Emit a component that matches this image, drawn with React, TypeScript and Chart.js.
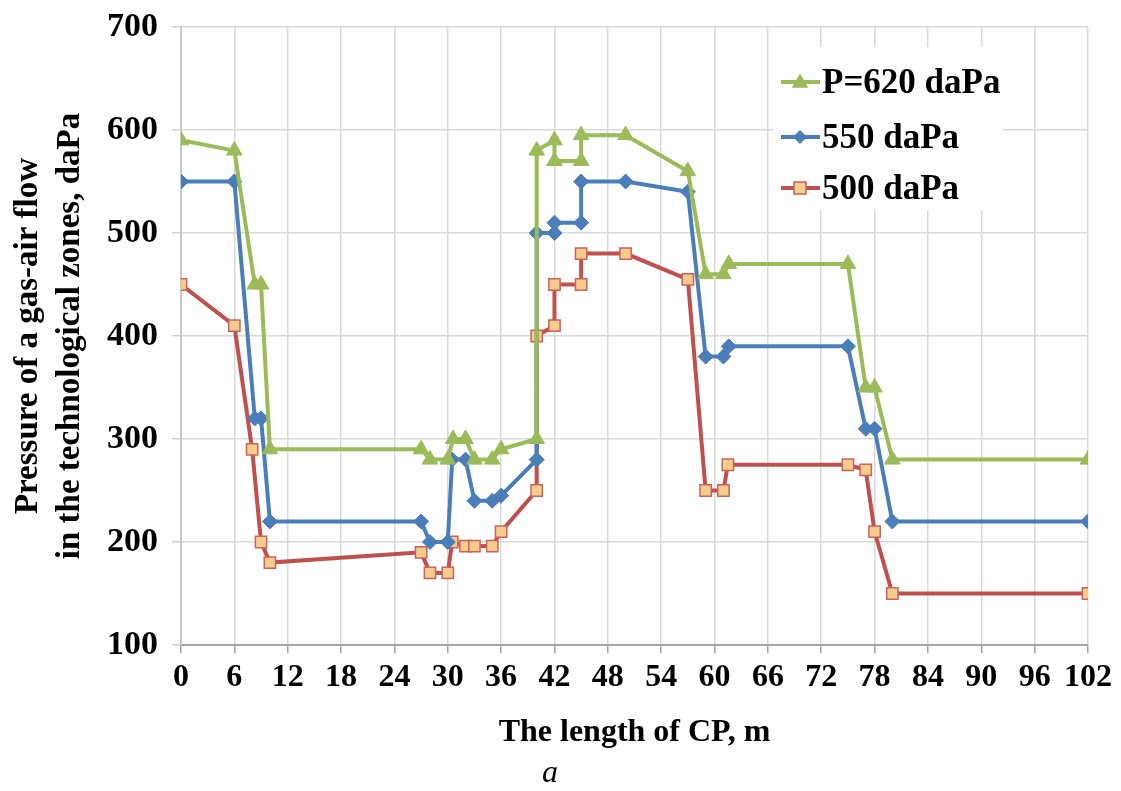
import React, { useEffect, useRef } from "react";
import { Chart, registerables } from "chart.js";

Chart.register(...registerables);

// Data
const greenX = [0, 6, 8.3, 9, 10, 27, 28, 30, 30.6, 32, 33, 35, 36, 40, 40, 42, 42, 45, 45, 50, 57, 59, 61, 61.6, 75, 77, 78, 80, 102];
const greenY = [590, 580, 450, 450, 290, 290, 280, 280, 300, 300, 280, 280, 290, 300, 580, 590, 570, 570, 595, 595, 560, 460, 460, 470, 470, 350, 350, 280, 280];

const blueX = [0, 6, 8.3, 9, 10, 27, 28, 30, 30.5, 32, 33, 35, 36, 40, 40, 42, 42, 45, 45, 50, 57, 59, 61, 61.6, 75, 77, 78, 80, 102];
const blueY = [550, 550, 320, 320, 220, 220, 200, 200, 280, 280, 240, 240, 245, 280, 500, 500, 510, 510, 550, 550, 540, 380, 380, 390, 390, 310, 310, 220, 220];

const redX = [0, 6, 8, 9, 10, 27, 28, 30, 30.5, 32, 33, 35, 36, 40, 40, 42, 42, 45, 45, 50, 57, 59, 61, 61.5, 75, 77, 78, 80, 102];
const redY = [450, 410, 290, 200, 180, 190, 170, 170, 200, 196, 196, 196, 210, 250, 400, 410, 450, 450, 480, 480, 455, 250, 250, 275, 275, 270, 210, 150, 150];

const seriesLabels = ["P=620 daPa", "550 daPa", "500 daPa"];
const xMin = 0;
const xMax = 102;
const xStep = 6;
const yMin = 100;
const yMax = 700;
const yStep = 100;
const yTitleLines = ["Pressure of a gas-air flow", "in the technological zones, daPa"];
const xTitle = "The length of CP, m";
const caption = "a";

const toPoints = (xs: number[], ys: number[]) => xs.map((x, i) => ({ x, y: ys[i] }));

const SERIF = '"Liberation Serif", "Times New Roman", serif';

const decorPlugin = {
  id: "decor",
  afterDraw(chart: any) {
    const ctx = chart.ctx as CanvasRenderingContext2D;
    const area = chart.chartArea;
    ctx.save();
    ctx.fillStyle = "#000";
    // Y title
    ctx.font = `bold 33px ${SERIF}`;
    ctx.textAlign = "center";
    ctx.textBaseline = "middle";
    const cy = 336;
    const xs = [28, 70];
    yTitleLines.forEach((line, i) => {
      ctx.save();
      ctx.translate(xs[i], cy);
      ctx.rotate(-Math.PI / 2);
      ctx.fillText(line, 0, 0);
      ctx.restore();
    });
    // X title
    ctx.font = `bold 32px ${SERIF}`;
    ctx.fillText(xTitle, (area.left + area.right) / 2, 733);
    // caption
    ctx.font = `italic 32px ${SERIF}`;
    ctx.fillText(caption, 550, 774);

    // Legend
    const lx = 773, ly = 47, lw = 230, lh = 163;
    ctx.fillStyle = "#ffffff";
    ctx.fillRect(lx, ly, lw, lh);
    const rows = [82, 137, 188];
    chart.data.datasets.forEach((ds: any, i: number) => {
      const y = rows[i];
      ctx.strokeStyle = ds.borderColor;
      ctx.lineWidth = 4;
      ctx.beginPath();
      ctx.moveTo(781, y);
      ctx.lineTo(820, y);
      ctx.stroke();
      const cx = 800;
      ctx.fillStyle = ds.pointBackgroundColor;
      ctx.strokeStyle = ds.pointBorderColor;
      ctx.lineWidth = 1.5;
      ctx.beginPath();
      if (ds.pointStyle === "triangle") {
        ctx.moveTo(cx, y - 7);
        ctx.lineTo(cx + 7, y + 5);
        ctx.lineTo(cx - 7, y + 5);
        ctx.closePath();
      } else if (ds.pointStyle === "rectRot") {
        ctx.moveTo(cx, y - 6);
        ctx.lineTo(cx + 6, y);
        ctx.lineTo(cx, y + 6);
        ctx.lineTo(cx - 6, y);
        ctx.closePath();
      } else {
        ctx.rect(cx - 6, y - 6, 12, 12);
      }
      ctx.fill();
      ctx.stroke();
      ctx.fillStyle = "#000";
      ctx.font = `bold 35px ${SERIF}`;
      ctx.textAlign = "left";
      ctx.textBaseline = "middle";
      ctx.fillText(ds.label, 822, y + 2);
    });
    ctx.restore();
  },
};

export default function App() {
  const ref = useRef<HTMLCanvasElement | null>(null);

  useEffect(() => {
    if (!ref.current) return;
    const chart = new Chart(ref.current, {
      type: "line",
      data: {
        datasets: [
          {
            label: seriesLabels[0],
            data: toPoints(greenX, greenY),
            borderColor: "#9BBB59",
            backgroundColor: "#9BBB59",
            pointBackgroundColor: "#9BBB59",
            pointBorderColor: "#9BBB59",
            pointStyle: "triangle",
            pointRadius: 9,
            pointBorderWidth: 1,
            borderWidth: 4,
            tension: 0,
          },
          {
            label: seriesLabels[1],
            data: toPoints(blueX, blueY),
            borderColor: "#4A7EBB",
            backgroundColor: "#4A7EBB",
            pointBackgroundColor: "#4A7EBB",
            pointBorderColor: "#4A7EBB",
            pointStyle: "rectRot",
            pointRadius: 7.5,
            pointBorderWidth: 1,
            borderWidth: 4,
            tension: 0,
          },
          {
            label: seriesLabels[2],
            data: toPoints(redX, redY),
            borderColor: "#C0504D",
            backgroundColor: "#C0504D",
            pointBackgroundColor: "#F2CD8C",
            pointBorderColor: "#D0605A",
            pointStyle: "rect",
            pointRadius: 8,
            pointBorderWidth: 1.5,
            borderWidth: 4,
            tension: 0,
          },
        ] as any,
      },
      options: {
        responsive: false,
        animation: false,
        devicePixelRatio: 1,
        layout: { padding: { top: 27, right: 33, left: 0, bottom: 0 } },
        plugins: {
          legend: { display: false },
          tooltip: { enabled: false },
        },
        scales: {
          x: {
            type: "linear",
            min: xMin,
            max: xMax,
            afterFit: (s: any) => {
              s.height = 146;
              s.paddingLeft = 0;
              s.paddingRight = 0;
            },
            ticks: {
              stepSize: xStep,
              color: "#000",
              font: { family: SERIF, size: 32, weight: "bold" },
              padding: 6,
              maxRotation: 0,
              autoSkip: false,
            },
            grid: {
              color: "#d9d9d9",
              lineWidth: 1.5,
              tickLength: 8,
              tickColor: "#a6a6a6",
            },
            border: { color: "#a6a6a6", width: 2 },
          },
          y: {
            type: "linear",
            min: yMin,
            max: yMax,
            afterFit: (s: any) => {
              s.width = 181;
              s.paddingTop = 0;
              s.paddingBottom = 0;
            },
            ticks: {
              stepSize: yStep,
              color: "#000",
              font: { family: SERIF, size: 34, weight: "bold" },
              padding: 14,
            },
            grid: {
              color: "#d9d9d9",
              lineWidth: 1.5,
              tickLength: 9,
              tickColor: "#d0d0d0",
            },
            border: { color: "#c8c8c8", width: 2 },
          },
        },
      } as any,
      plugins: [decorPlugin],
    });
    return () => chart.destroy();
  }, []);

  return (
    <div style={{ position: "fixed", left: 0, top: 0, width: 1121, height: 791, background: "#fff" }}>
      <canvas ref={ref} width={1121} height={791} style={{ display: "block", width: 1121, height: 791 }} />
    </div>
  );
}
